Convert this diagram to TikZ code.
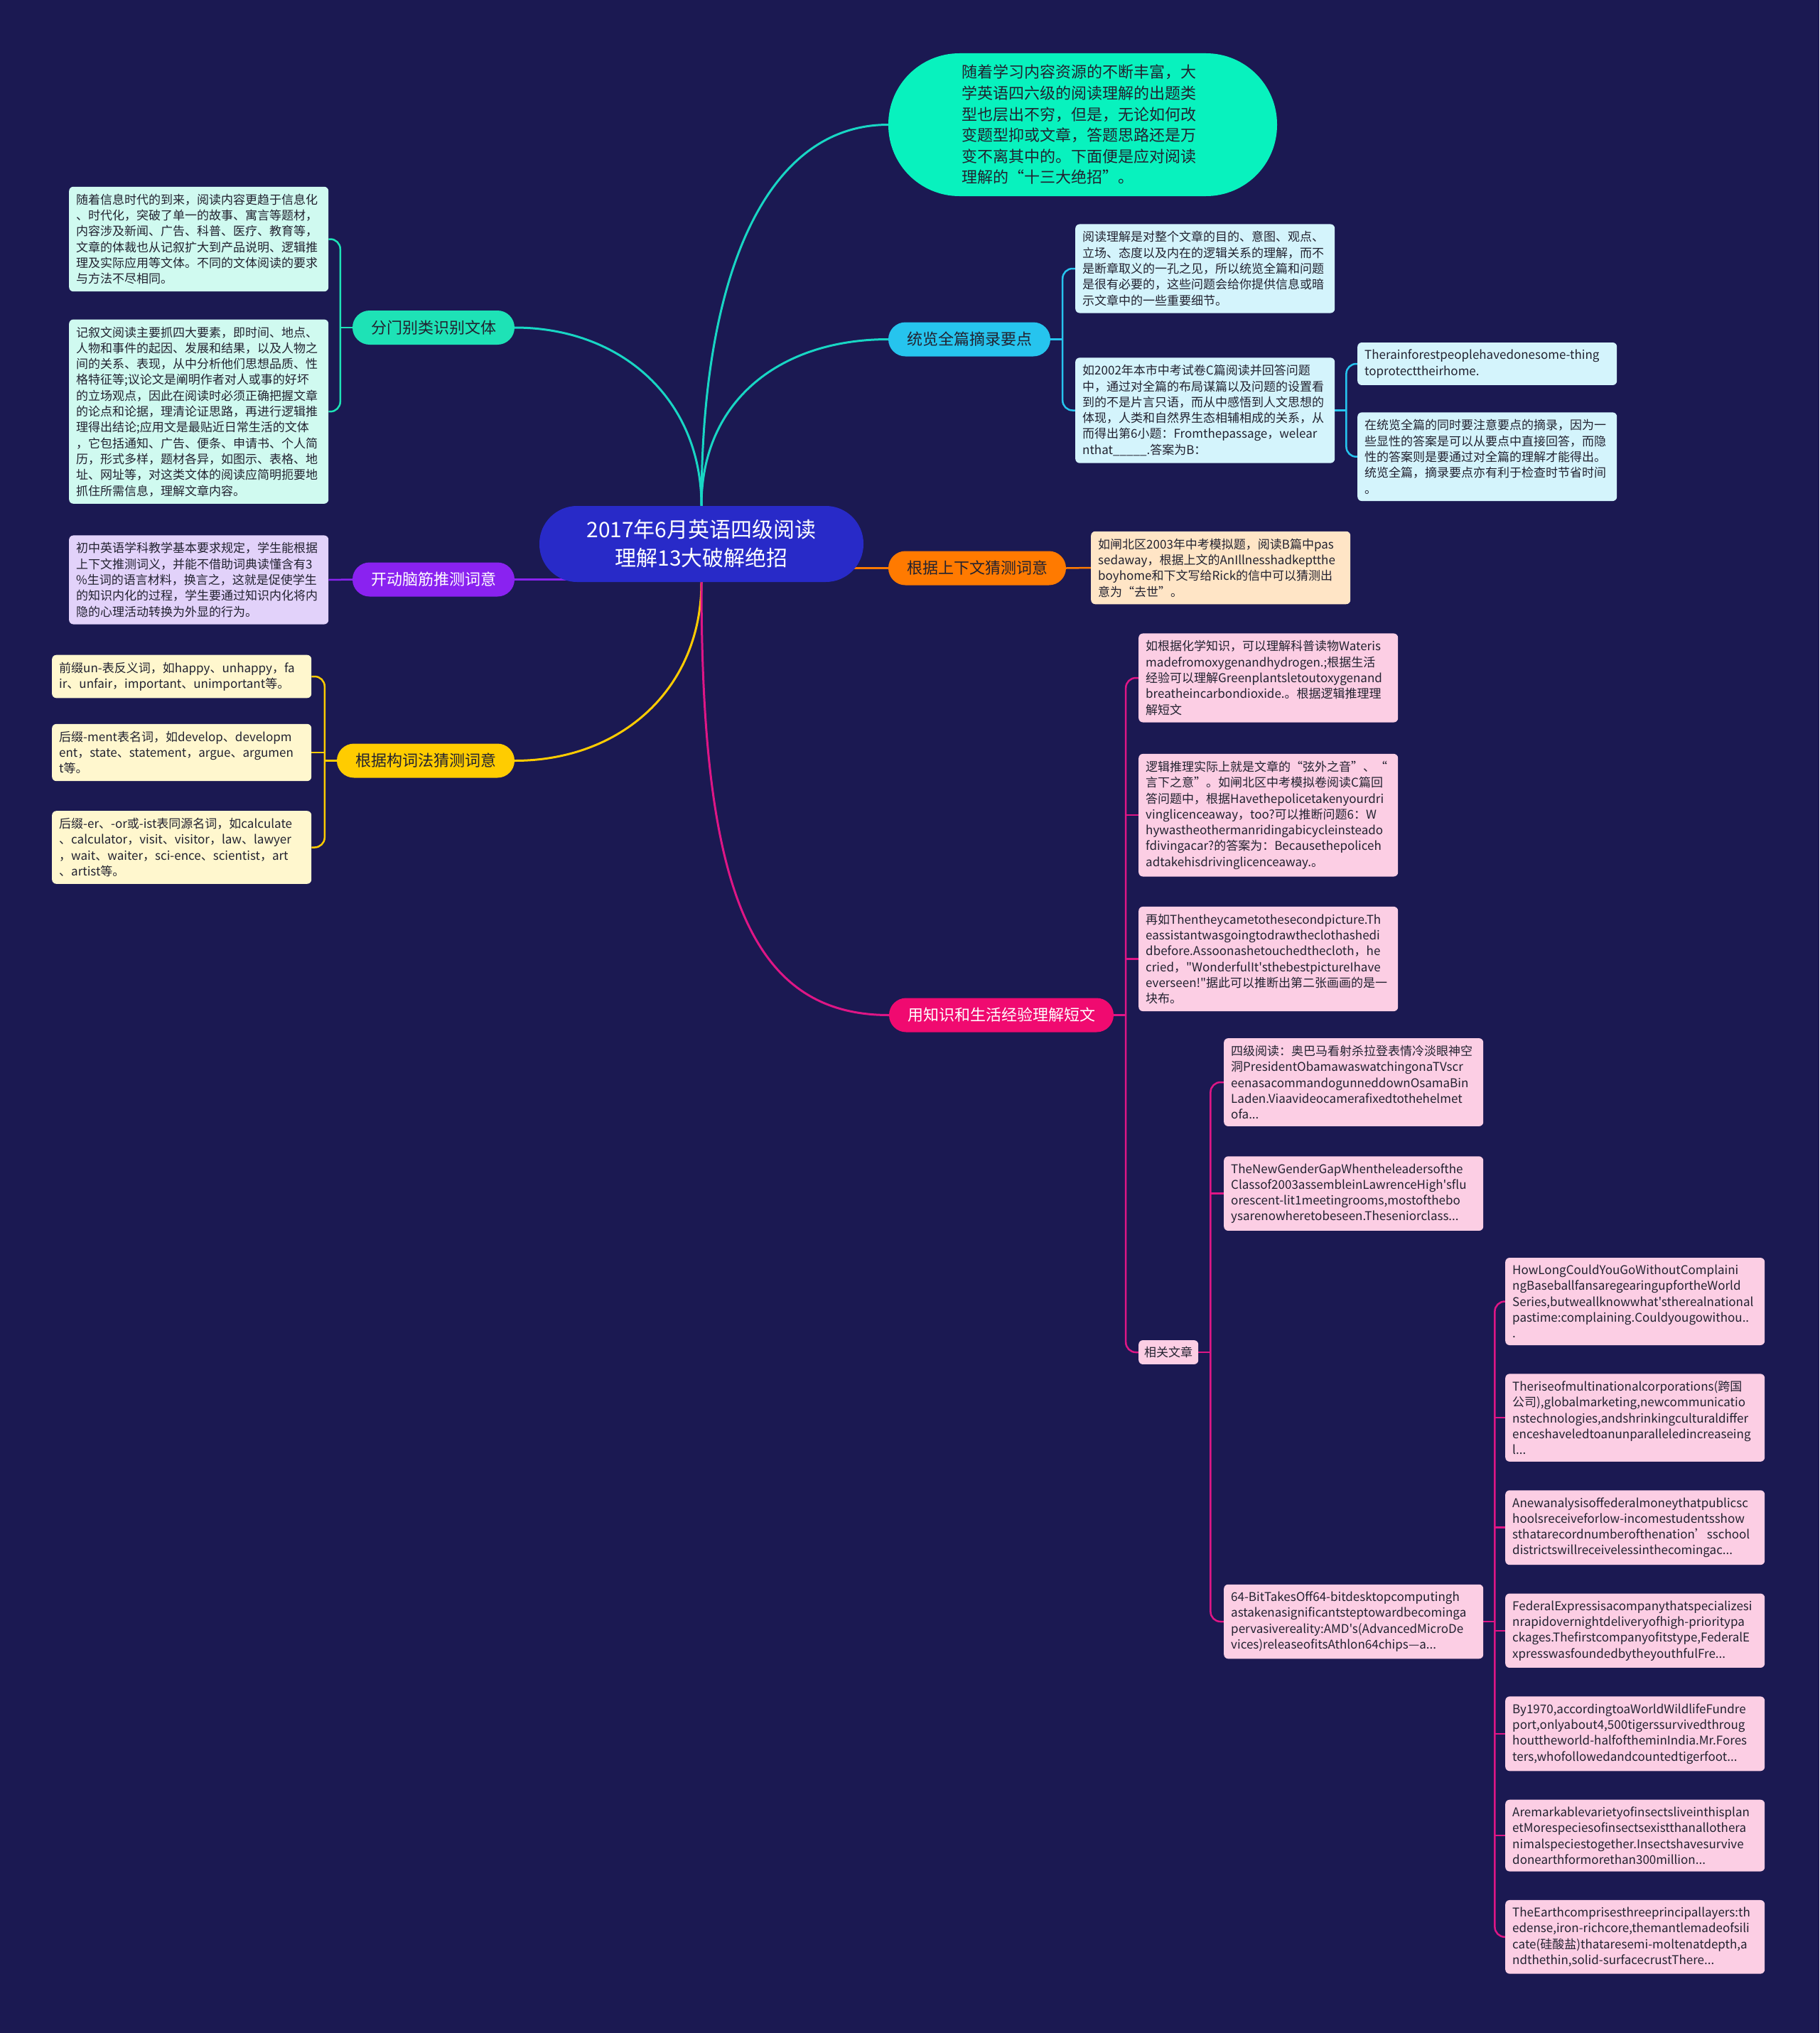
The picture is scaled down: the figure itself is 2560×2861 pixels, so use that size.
\documentclass[tikz,border=0pt]{standalone}
\usepackage{fontspec}
\setmainfont{Noto Sans CJK SC}[Ligatures=TeXOff]
\usetikzlibrary{positioning, calc}

\definecolor{pagebg}{RGB}{27,25,82}
\definecolor{rootblue}{RGB}{40,42,200}
\definecolor{introc}{RGB}{8,242,190}
\definecolor{tealline}{RGB}{24,214,196}
\definecolor{genrec}{RGB}{30,226,182}
\definecolor{genrel}{RGB}{208,250,240}
\definecolor{overc}{RGB}{38,196,238}
\definecolor{overl}{RGB}{212,244,252}
\definecolor{inferc}{RGB}{138,34,240}
\definecolor{inferl}{RGB}{226,210,250}
\definecolor{wordc}{RGB}{255,204,0}
\definecolor{wordl}{RGB}{255,247,206}
\definecolor{ctxc}{RGB}{255,122,0}
\definecolor{ctxl}{RGB}{255,229,198}
\definecolor{knowc}{RGB}{240,10,112}
\definecolor{knowline}{RGB}{222,22,134}
\definecolor{knowl}{RGB}{252,206,228}
\definecolor{inkdark}{RGB}{34,34,48}

\pgfdeclarelayer{bg}
\pgfdeclarelayer{edges}
\pgfsetlayers{bg,edges,main}

\hyphenpenalty=10000
\exhyphenpenalty=10000

\begin{document}
\begin{tikzpicture}[
    x=1pt, y=1pt,
    node distance=40pt,
    rootnode/.style={fill=rootblue, text=white, rounded corners=53pt,
      minimum width=456pt, minimum height=107pt, align=center,
      font=\fontsize{30}{40}\selectfont},
    bubble/.style={fill=introc, text=inkdark, rounded corners=100pt,
      minimum width=547pt, minimum height=201pt, text width=340pt, align=left,
      font=\fontsize{22}{29.6}\selectfont},
    branch/.style={rounded corners=24pt, minimum height=48pt, inner xsep=26pt,
      font=\fontsize{22}{26}\selectfont},
    leaf/.style={rounded corners=6pt, text width=345pt, inner xsep=10pt,
      inner ysep=10pt, align=left, text=inkdark,
      font=\fontsize{17}{22.3}\selectfont},
    tag/.style={rounded corners=6pt, inner xsep=8pt, inner ysep=9pt, text=inkdark,
      font=\fontsize{17}{22.3}\selectfont},
    trunk/.style={line width=3pt},
    fork/.style={line width=2.5pt, rounded corners=14pt}
  ]
  \useasboundingbox (0,0) rectangle (2560,-2861);
  \begin{pgfonlayer}{bg}
    \fill[pagebg] (0,0) rectangle (2560,-2861);
  \end{pgfonlayer}

  % ---- centre and intro bubble ----
  \node[rootnode] (root) at (987,-765.5) {2017年6月英语四级阅读\\理解13大破解绝招};
  \node[bubble] (intro) at (1523.5,-175.5)
    {随着学习内容资源的不断丰富，大\\学英语四六级的阅读理解的出题类\\型也层出不穷，但是，无论如何改\\
     变题型抑或文章，答题思路还是万\\变不离其中的。下面便是应对阅读\\理解的“十三大绝招”。};

  % ---- right: overview ----
  \node[branch, fill=overc, text=inkdark] (overview) at (1364,-477.5) {统览全篇摘录要点};
  \node[leaf, fill=overl, anchor=west] (ovA) at (1513,-378)
    {阅读理解是对整个文章的目的、意图、观点、\\立场、态度以及内在的逻辑关系的理解，而不\\
     是断章取义的一孔之见，所以统览全篇和问题\\是很有必要的，这些问题会给你提供信息或暗\\示文章中的一些重要细节。};
  \node[leaf, fill=overl, anchor=west] (ovB) at (1513,-577.5)
    {如2002年本市中考试卷C篇阅读并回答问题\\中，通过对全篇的布局谋篇以及问题的设置看\\
     到的不是片言只语，而从中感悟到人文思想的\\体现，人类和自然界生态相辅相成的关系，从\\
     而得出第6小题：Fromthepassage，welear\\nthat\_\_\_\_\_.答案为B：};
  \node[leaf, fill=overl, anchor=west] (ovB1) at (1910,-512)
    {Therainforestpeoplehavedonesome-thing\\toprotecttheirhome.};
  \node[leaf, fill=overl, below=38pt of ovB1] (ovB2)
    {在统览全篇的同时要注意要点的摘录，因为一\\些显性的答案是可以从要点中直接回答，而隐\\
     性的答案则是要通过对全篇的理解才能得出。\\统览全篇，摘录要点亦有利于检查时节省时间\\。};

  % ---- right: context ----
  \node[branch, fill=ctxc, text=inkdark] (context) at (1375,-799.5) {根据上下文猜测词意};
  \node[leaf, fill=ctxl, anchor=west] (ctxA) at (1535,-799)
    {如闸北区2003年中考模拟题，阅读B篇中pas\\sedaway，根据上文的AnIllnesshadkeptthe\\
     boyhome和下文写给Rick的信中可以猜测出\\意为“去世”。};

  % ---- right: knowledge ----
  \node[branch, fill=knowc, text=white] (knowledge) at (1409,-1428.5) {用知识和生活经验理解短文};
  \node[leaf, fill=knowl, anchor=west] (knA) at (1602,-954)
    {如根据化学知识，可以理解科普读物Wateris\\madefromoxygenandhydrogen.;根据生活\\
     经验可以理解Greenplantsletoutoxygenand\\breatheincarbondioxide.。根据逻辑推理理\\解短文};
  \node[leaf, fill=knowl, below=44pt of knA] (knB)
    {逻辑推理实际上就是文章的“弦外之音”、“\\言下之意”。如闸北区中考模拟卷阅读C篇回\\
     答问题中，根据Havethepolicetakenyourdri\\vinglicenceaway，too?可以推断问题6：W\\
     hywastheothermanridingabicycleinsteado\\fdivingacar?的答案为：Becausethepoliceh\\
     adtakehisdrivinglicenceaway.。};
  \node[leaf, fill=knowl, below=42pt of knB] (knC)
    {再如Thentheycametothesecondpicture.Th\\eassistantwasgoingtodrawtheclothashedi\\
     dbefore.Assoonashetouchedthecloth，he\\cried，"WonderfulIt'sthebestpictureIhave\\
     everseen!"据此可以推断出第二张画画的是一\\块布。};
  \node[tag, fill=knowl, anchor=west] (related) at (1602,-1903) {相关文章};

  \node[leaf, fill=knowl, anchor=west] (relA) at (1722,-1523)
    {四级阅读：奥巴马看射杀拉登表情冷淡眼神空\\洞PresidentObamawaswatchingonaTVscr\\
     eenasacommandogunneddownOsamaBin\\Laden.Viaavideocamerafixedtothehelmet\\ofa...};
  \node[leaf, fill=knowl, below=42pt of relA] (relB)
    {TheNewGenderGapWhentheleadersofthe\\Classof2003assembleinLawrenceHigh'sflu\\
     orescent-lit1meetingrooms,mostofthebo\\ysarenowheretobeseen.Theseniorclass...};
  \node[leaf, fill=knowl, anchor=west] (relC) at (1722,-2282)
    {64-BitTakesOff64-bitdesktopcomputingh\\astakenasignificantsteptowardbecominga\\
     pervasivereality:AMD's(AdvancedMicroDe\\vices)releaseofitsAthlon64chips—a...};

  \node[leaf, fill=knowl, anchor=west] (art1) at (2118,-1831.5)
    {HowLongCouldYouGoWithoutComplaini\\ngBaseballfansaregearingupfortheWorld\\
     Series,butweallknowwhat'stherealnational\\pastime:complaining.Couldyougowithou..\\.};
  \node[leaf, fill=knowl, below=of art1] (art2)
    {Theriseofmultinationalcorporations(跨国\\公司),globalmarketing,newcommunicatio\\
     nstechnologies,andshrinkingculturaldiffer\\enceshaveledtoanunparalleledincreaseing\\l...};
  \node[leaf, fill=knowl, below=of art2] (art3)
    {Anewanalysisoffederalmoneythatpublicsc\\hoolsreceiveforlow-incomestudentsshow\\
     sthatarecordnumberofthenation’sschool\\districtswillreceivelessinthecomingac...};
  \node[leaf, fill=knowl, below=of art3] (art4)
    {FederalExpressisacompanythatspecializesi\\nrapidovernightdeliveryofhigh-prioritypa\\
     ckages.Thefirstcompanyofitstype,FederalE\\xpresswasfoundedbytheyouthfulFre...};
  \node[leaf, fill=knowl, below=of art4] (art5)
    {By1970,accordingtoaWorldWildlifeFundre\\port,onlyabout4,500tigerssurvivedthroug\\
     houttheworld-halfoftheminIndia.Mr.Fores\\ters,whofollowedandcountedtigerfoot...};
  \node[leaf, fill=knowl, below=of art5] (art6)
    {Aremarkablevarietyofinsectsliveinthisplan\\etMorespeciesofinsectsexistthanallothera\\
     nimalspeciestogether.Insectshavesurvive\\donearthformorethan300million...};
  \node[leaf, fill=knowl, below=of art6] (art7)
    {TheEarthcomprisesthreeprincipallayers:th\\edense,iron-richcore,themantlemadeofsili\\
     cate(硅酸盐)thataresemi-moltenatdepth,a\\ndthethin,solid-surfacecrustThere...};

  % ---- left: genre ----
  \node[branch, fill=genrec, text=inkdark] (genre) at (610,-461) {分门别类识别文体};
  \node[leaf, fill=genrel, anchor=west] (gnA) at (97,-336.5)
    {随着信息时代的到来，阅读内容更趋于信息化\\、时代化，突破了单一的故事、寓言等题材，\\
     内容涉及新闻、广告、科普、医疗、教育等，\\文章的体裁也从记叙扩大到产品说明、逻辑推\\
     理及实际应用等文体。不同的文体阅读的要求\\与方法不尽相同。};
  \node[leaf, fill=genrel, below=39pt of gnA] (gnB)
    {记叙文阅读主要抓四大要素，即时间、地点、\\人物和事件的起因、发展和结果，以及人物之\\
     间的关系、表现，从中分析他们思想品质、性\\格特征等;议论文是阐明作者对人或事的好坏\\
     的立场观点，因此在阅读时必须正确把握文章\\的论点和论据，理清论证思路，再进行逻辑推\\
     理得出结论;应用文是最贴近日常生活的文体\\，它包括通知、广告、便条、申请书、个人简\\
     历，形式多样，题材各异，如图示、表格、地\\址、网址等，对这类文体的阅读应简明扼要地\\
     抓住所需信息，理解文章内容。};

  % ---- left: infer ----
  \node[branch, fill=inferc, text=white] (infer) at (610,-815.5) {开动脑筋推测词意};
  \node[leaf, fill=inferl, anchor=west] (infA) at (97,-816)
    {初中英语学科教学基本要求规定，学生能根据\\上下文推测词义，并能不借助词典读懂含有3\\
     \%生词的语言材料，换言之，这就是促使学生\\的知识内化的过程，学生要通过知识内化将内\\
     隐的心理活动转换为外显的行为。};

  % ---- left: word formation ----
  \node[branch, fill=wordc, text=inkdark] (wordform) at (599,-1070.5) {根据构词法猜测词意};
  \node[leaf, fill=wordl, anchor=west] (wfA) at (73,-952)
    {前缀un-表反义词，如happy、unhappy，fa\\ir、unfair，important、unimportant等。};
  \node[leaf, fill=wordl, anchor=west] (wfB) at (73,-1059)
    {后缀-ment表名词，如develop、developm\\ent，state、statement，argue、argumen\\t等。};
  \node[leaf, fill=wordl, anchor=west] (wfC) at (73,-1192.5)
    {后缀-er、-or或-ist表同源名词，如calculate\\、calculator，visit、visitor，law、lawyer\\
     ，wait、waiter，sci-ence、scientist，art\\、artist等。};

  \begin{pgfonlayer}{edges}
    % main branches out of the centre
    \draw[trunk, tealline] (root.north) .. controls +(0,330) and +(-170,0) .. (intro.west);
    \draw[trunk, tealline] (root.north) .. controls +(0,150) and +(-150,0) .. (overview.west);
    \draw[trunk, tealline] (root.north) .. controls +(0,150) and +(150,0) .. (genre.east);
    \draw[trunk, inferc] (root.center |- infer.east) -- (infer.east);
    \draw[trunk, ctxc] (root.center |- context.west) -- (context.west);
    \draw[trunk, wordc] (root.south) .. controls +(0,-150) and +(150,0) .. (wordform.east);
    \draw[trunk, knowline] (root.south) .. controls +(0,-420) and +(-200,0) .. (knowledge.west);

    % forks to the boxes
    \coordinate (ox) at ($(overview.east)+(17,0)$);
    \draw[fork, overc] (overview.east) -- (ox);
    \draw[fork, overc] (ovA.west) -| (ox) |- (ovB.west);
    \coordinate (bx) at ($(ovB.east)+(16,0)$);
    \draw[fork, overc] (ovB.east) -- (bx);
    \draw[fork, overc] (ovB1.west) -| (bx) |- (ovB2.west);

    \draw[fork, ctxc] (context.east) -- (ctxA.west);

    \coordinate (kx) at ($(knowledge.east)+(17,0)$);
    \draw[fork, knowline] (knowledge.east) -- (kx);
    \draw[fork, knowline] (knA.west) -| (kx) |- (related.west);
    \draw[fork, knowline] (kx |- knB.west) -- (knB.west);
    \draw[fork, knowline] (kx |- knC.west) -- (knC.west);

    \coordinate (rx) at ($(related.east)+(17,0)$);
    \draw[fork, knowline] (related.east) -- (rx);
    \draw[fork, knowline] (relA.west) -| (rx) |- (relC.west);
    \draw[fork, knowline] (rx |- relB.west) -- (relB.west);

    \coordinate (qx) at ($(relC.east)+(16,0)$);
    \draw[fork, knowline] (relC.east) -- (qx);
    \draw[fork, knowline] (art1.west) -| (qx) |- (art7.west);
    \foreach \i in {2,...,6}
      \draw[fork, knowline] (qx |- art\i.west) -- (art\i.west);

    \coordinate (gx) at ($(genre.west)+(-17,0)$);
    \draw[fork, genrec] (genre.west) -- (gx);
    \draw[fork, genrec] (gnA.east) -| (gx) |- (gnB.east);

    \draw[fork, inferc] (infer.west) -- (infA.east);

    \coordinate (wx) at ($(wordform.west)+(-17,0)$);
    \draw[fork, wordc] (wordform.west) -- (wx);
    \draw[fork, wordc] (wfA.east) -| (wx) |- (wfC.east);
    \draw[fork, wordc] (wx |- wfB.east) -- (wfB.east);
  \end{pgfonlayer}
\end{tikzpicture}
\end{document}
